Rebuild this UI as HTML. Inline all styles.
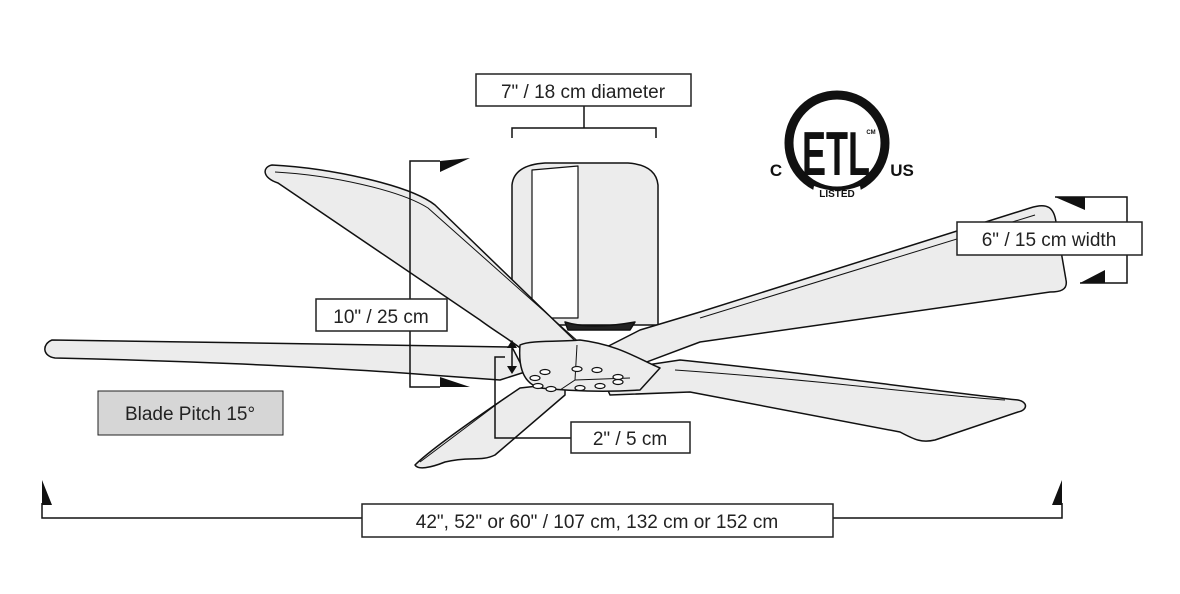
<!DOCTYPE html>
<html><head><meta charset="utf-8"><style>
html,body{margin:0;padding:0;background:#fff;}
svg{display:block;}
text{font-family:"Liberation Sans",sans-serif;}
</style></head><body>
<svg width="1180" height="594" viewBox="0 0 1180 594" xmlns="http://www.w3.org/2000/svg">
<g stroke="#111" stroke-width="1.5" fill="#ececec" stroke-linejoin="round">
<!-- motor -->
<path d="M512,325 L512,185 Q514,165 545,163 L628,163 Q656,165 658,185 L658,325 Z"/>
<path d="M532,318 L532,170 L578,166 L578,318 Z" fill="#fff" stroke-width="1.2"/>
<path d="M565,322 Q590,330 635,322 L630,330 L568,330 Z" fill="#222"/>
<!-- upper-right blade -->
<path d="M585,358 L640,330 L700,312 L1030,208 C1048,202 1054,208 1056,222 L1066,280 C1068,290 1060,292 1050,292 L700,342 L620,372 Z"/>
<path d="M700,318 L1035,215" fill="none" stroke-width="1"/>
<!-- lower-right blade -->
<path d="M600,372 L680,360 C800,372 910,388 1018,400 C1028,402 1028,410 1018,412 L935,440 C922,443 915,440 900,432 L690,392 L610,395 Z"/>
<path d="M675,370 C820,380 930,395 1005,400" fill="none" stroke-width="1"/>
<!-- left blade -->
<path d="M52,340 C200,342 380,345 512,347 L525,372 L500,380 L430,375 C300,365 150,360 55,358 C42,356 42,344 52,340 Z"/>
<!-- lower-left blade -->
<path d="M565,383 L520,388 C480,415 430,450 415,465 C418,470 430,468 445,462 C470,456 480,462 495,455 L565,395 Z"/>
<path d="M505,398 L420,462" fill="none" stroke-width="1"/>
<!-- upper-left blade -->
<path d="M272,165 C330,168 410,185 435,205 L595,360 L540,365 C520,345 500,335 480,320 L278,183 C262,178 262,167 272,165 Z"/>
<path d="M275,172 C330,175 400,190 428,208 L590,352" fill="none" stroke-width="1"/>
<!-- hub -->
<path d="M520,345 C530,340 560,342 580,340 C620,345 640,360 660,368 L640,390 C610,392 580,392 540,388 C525,384 518,370 520,345 Z"/>
<path d="M577,345 L575,380 L560,390 M575,380 L630,378" fill="none" stroke-width="1"/>
</g>
<g fill="#fff" stroke="#111" stroke-width="1.2">
<ellipse cx="545" cy="372" rx="5" ry="2.5"/><ellipse cx="535" cy="378" rx="5" ry="2.5"/>
<ellipse cx="538" cy="386" rx="5" ry="2.5"/><ellipse cx="551" cy="389" rx="5" ry="2.5"/>
<ellipse cx="577" cy="369" rx="5" ry="2.5"/><ellipse cx="597" cy="370" rx="5" ry="2.5"/>
<ellipse cx="618" cy="377" rx="5" ry="2.5"/><ellipse cx="618" cy="382" rx="5" ry="2.5"/>
<ellipse cx="580" cy="388" rx="5" ry="2.5"/><ellipse cx="600" cy="386" rx="5" ry="2.5"/>
</g>
<!-- dimension lines -->
<g fill="none" stroke="#111" stroke-width="1.5">
<path d="M512,138 L512,128 L656,128 L656,138 M584,128 L584,106"/>
<path d="M440,161 L410,161 L410,387 L440,387"/>
<path d="M1055,197 L1127,197 L1127,283 L1080,283"/>
<path d="M42,503 L42,518 L1062,518 L1062,503"/>
<path d="M505,357 L495,357 L495,438 L572,438"/>
<path d="M512,342 L512,372"/>
</g>
<g fill="#111">
<polygon points="440,161 470,158 440,172"/>
<polygon points="440,387 470,387 440,377"/>
<polygon points="1055,197 1085,210 1085,197"/>
<polygon points="1080,283 1105,270 1105,283"/>
<polygon points="42,480 52,505 42,505"/>
<polygon points="1062,480 1052,505 1062,505"/>
<polygon points="512,340 507,348 517,348"/>
<polygon points="512,374 507,366 517,366"/>
</g>
<!-- labels -->
<g stroke="#222" stroke-width="1.5" fill="#fff">
<rect x="476" y="74" width="215" height="32"/>
<rect x="316" y="299" width="131" height="32"/>
<rect x="957" y="222" width="185" height="33"/>
<rect x="571" y="422" width="119" height="31"/>
<rect x="362" y="504" width="471" height="33"/>
<rect x="98" y="391" width="185" height="44" fill="#d6d6d6" stroke-width="1"/>
</g>
<g font-size="19" fill="#222" text-anchor="middle">
<text x="583" y="98">7" / 18 cm diameter</text>
<text x="381" y="323">10" / 25 cm</text>
<text x="1049" y="246">6" / 15 cm width</text>
<text x="630" y="445">2" / 5 cm</text>
<text x="597" y="528">42", 52" or 60" / 107 cm, 132  cm or 152 cm</text>
<text x="190" y="420">Blade Pitch 15°</text>
</g>
<!-- ETL logo -->
<g>
<circle cx="837" cy="143" r="48" fill="none" stroke="#111" stroke-width="9"/>
<path d="M814,186 Q837,195 860,186 L862,196 Q837,204 812,196 Z" fill="#fff"/>
<text x="837" y="197" font-size="10" font-weight="bold" text-anchor="middle" fill="#111">LISTED</text>
<text x="836" y="175" font-size="62" font-weight="bold" text-anchor="middle" fill="#111" textLength="68" lengthAdjust="spacingAndGlyphs">ETL</text>
<text x="871" y="134" font-size="6" font-weight="bold" text-anchor="middle" fill="#111">CM</text>
<text x="776" y="176" font-size="17" font-weight="bold" text-anchor="middle" fill="#111">C</text>
<text x="902" y="176" font-size="17" font-weight="bold" text-anchor="middle" fill="#111">US</text>
</g>
</svg>
</body></html>
